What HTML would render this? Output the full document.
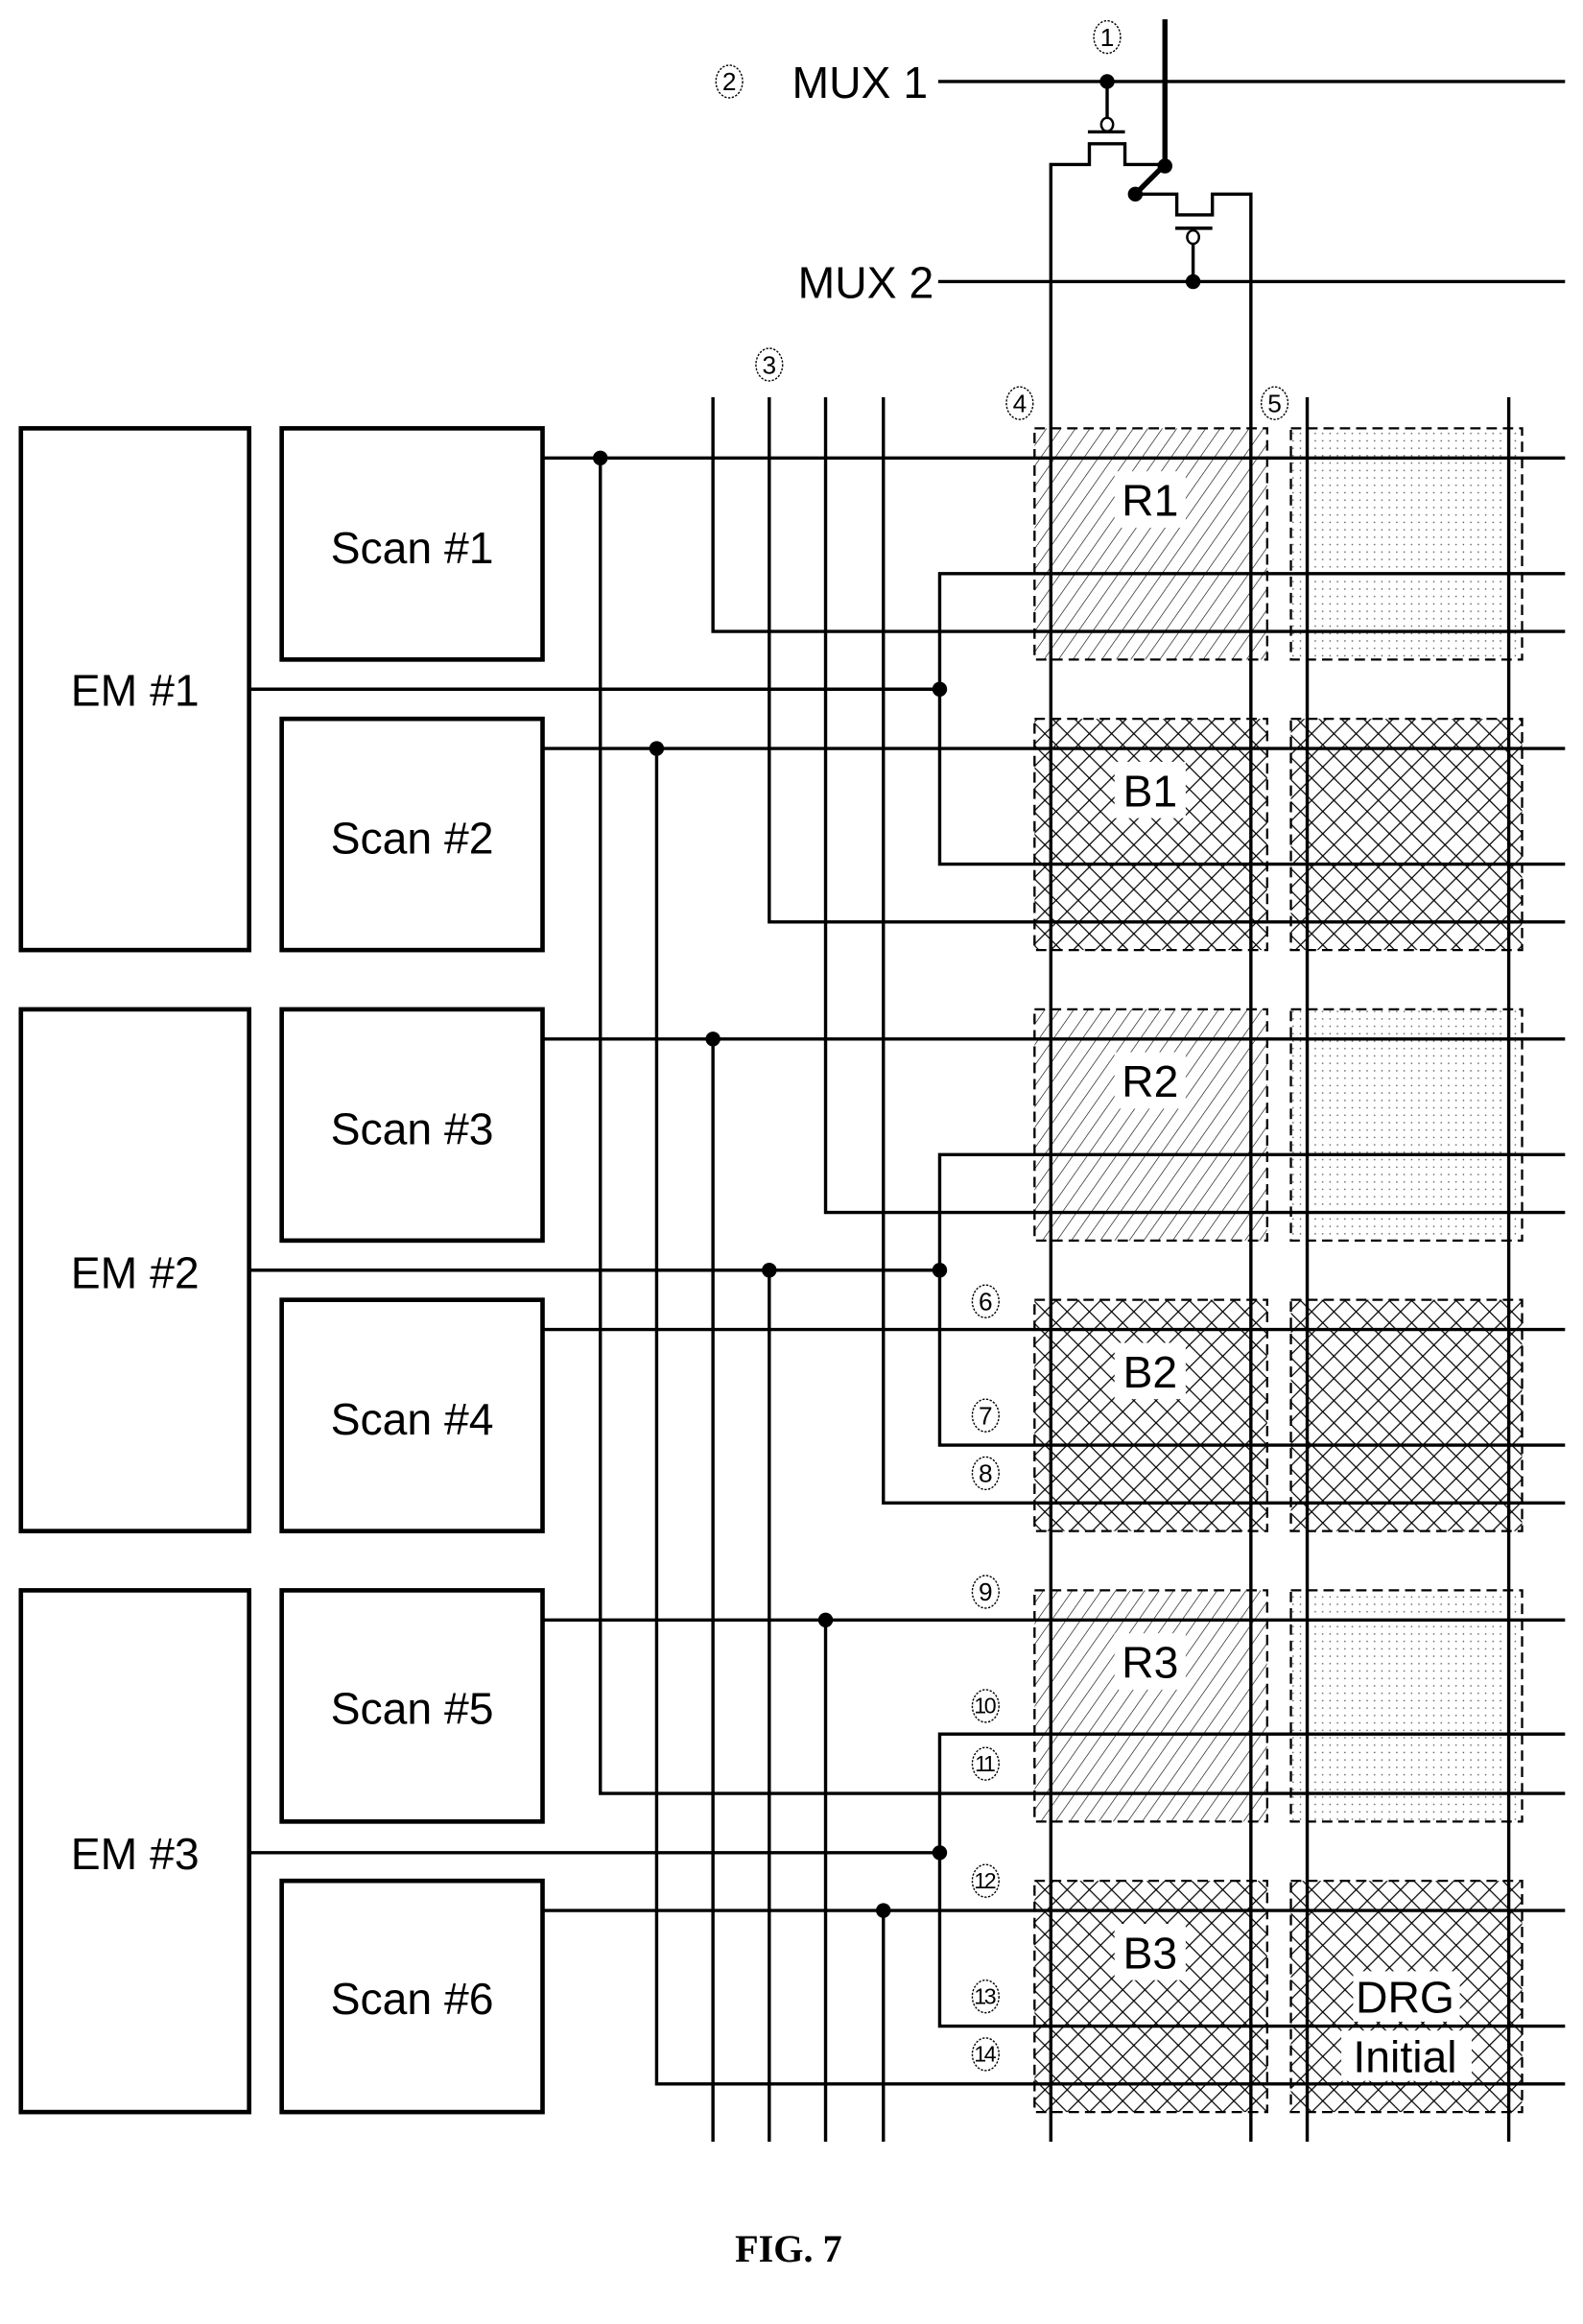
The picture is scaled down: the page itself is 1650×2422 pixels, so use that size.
<!DOCTYPE html>
<html><head><meta charset="utf-8"><style>
html,body{margin:0;padding:0;background:#fff;}
svg{display:block;}
text{font-family:"Liberation Sans","DejaVu Sans",sans-serif;fill:#000;}
</style></head><body>
<svg width="1650" height="2422" viewBox="0 0 1068 1568" xmlns="http://www.w3.org/2000/svg">
<defs>
<pattern id="hatch" width="8" height="8" patternUnits="userSpaceOnUse" patternTransform="rotate(35)">
<line x1="0" y1="0" x2="0" y2="8" stroke="#000" stroke-width="0.8"/>
</pattern>
<pattern id="cross" width="15" height="15" patternUnits="userSpaceOnUse">
<path d="M0 0L15 15M15 0L0 15" stroke="#000" stroke-width="0.8"/>
</pattern>
<pattern id="dots" width="5" height="5" patternUnits="userSpaceOnUse">
<rect x="2" y="2" width="0.9" height="0.9" fill="#555"/>
</pattern>
<g id="circ"><ellipse cx="0" cy="0" rx="9" ry="11" fill="#fff" stroke="#000" stroke-width="0.9" stroke-dasharray="1.5,1"/></g>
</defs>
<rect width="1068" height="1568" fill="#fff"/>

<g stroke="#000" stroke-width="1.5" stroke-dasharray="7,4">
<rect x="698" y="289" width="157" height="156" fill="url(#hatch)"/>
<rect x="871" y="289" width="156" height="156" fill="url(#dots)"/>
<rect x="698" y="485" width="157" height="156" fill="url(#cross)"/>
<rect x="871" y="485" width="156" height="156" fill="url(#cross)"/>
<rect x="698" y="681" width="157" height="156" fill="url(#hatch)"/>
<rect x="871" y="681" width="156" height="156" fill="url(#dots)"/>
<rect x="698" y="877" width="157" height="156" fill="url(#cross)"/>
<rect x="871" y="877" width="156" height="156" fill="url(#cross)"/>
<rect x="698" y="1073" width="157" height="156" fill="url(#hatch)"/>
<rect x="871" y="1073" width="156" height="156" fill="url(#dots)"/>
<rect x="698" y="1269" width="157" height="156" fill="url(#cross)"/>
<rect x="871" y="1269" width="156" height="156" fill="url(#cross)"/>
</g>
<g fill="#fff">
<rect x="752" y="318" width="48" height="38"/>
<rect x="752" y="514" width="48" height="38"/>
<rect x="752" y="710" width="48" height="38"/>
<rect x="752" y="906" width="48" height="38"/>
<rect x="752" y="1102" width="48" height="38"/>
<rect x="752" y="1298" width="48" height="38"/>
<rect x="913" y="1330" width="72" height="34"/>
<rect x="905" y="1370" width="88" height="34"/>
</g>

<g fill="none" stroke="#000" stroke-width="3">
<rect x="14" y="289" width="154" height="352"/>
<rect x="14" y="681" width="154" height="352"/>
<rect x="14" y="1073" width="154" height="352"/>
<rect x="190" y="289" width="176" height="156"/>
<rect x="190" y="485" width="176" height="156"/>
<rect x="190" y="681" width="176" height="156"/>
<rect x="190" y="877" width="176" height="156"/>
<rect x="190" y="1073" width="176" height="156"/>
<rect x="190" y="1269" width="176" height="156"/>
</g>

<g fill="none" stroke="#000" stroke-width="2.2">
<line x1="633" y1="55" x2="1056" y2="55"/>
<line x1="633" y1="190" x2="1056" y2="190"/>
<line x1="366" y1="309" x2="1056" y2="309"/>
<line x1="366" y1="505" x2="1056" y2="505"/>
<line x1="366" y1="701" x2="1056" y2="701"/>
<line x1="366" y1="897" x2="1056" y2="897"/>
<line x1="366" y1="1093" x2="1056" y2="1093"/>
<line x1="366" y1="1289" x2="1056" y2="1289"/>
<line x1="168" y1="465" x2="634" y2="465"/>
<line x1="168" y1="857" x2="634" y2="857"/>
<line x1="168" y1="1250" x2="634" y2="1250"/>
<polyline points="1056,387 634,387 634,583 1056,583"/>
<polyline points="1056,779 634,779 634,975 1056,975"/>
<polyline points="1056,1170 634,1170 634,1367 1056,1367"/>
<polyline points="405,309 405,1210 1056,1210"/>
<polyline points="443,505 443,1406 1056,1406"/>
<line x1="481" y1="701" x2="481" y2="1445"/>
<line x1="519" y1="857" x2="519" y2="1445"/>
<line x1="557" y1="1093" x2="557" y2="1445"/>
<line x1="596" y1="1289" x2="596" y2="1445"/>
<polyline points="481,268 481,426 1056,426"/>
<polyline points="519,268 519,622 1056,622"/>
<polyline points="557,268 557,818 1056,818"/>
<polyline points="596,268 596,1014 1056,1014"/>
<polyline points="709,1445 709,111 735,111 735,97 759,97 759,111 786,111"/>
<polyline points="844,1445 844,131 818,131 818,145 794,145 794,131 766,131"/>
<line x1="882" y1="268" x2="882" y2="1445"/>
<line x1="1018" y1="268" x2="1018" y2="1445"/>
<line x1="747" y1="55" x2="747" y2="80"/>
<line x1="734" y1="89" x2="759" y2="89"/>
<line x1="805" y1="190" x2="805" y2="165"/>
<line x1="793" y1="154" x2="818" y2="154"/>
</g>
<g fill="none" stroke="#000" stroke-width="1.6">
<ellipse cx="747" cy="84" rx="4" ry="4.5"/>
<ellipse cx="805" cy="160" rx="4" ry="4.5"/>
</g>
<line x1="786" y1="13" x2="786" y2="111" stroke="#000" stroke-width="3.5"/>
<line x1="786" y1="111" x2="766" y2="131" stroke="#000" stroke-width="3.5"/>

<g fill="#000">
<circle cx="747" cy="55" r="5"/>
<circle cx="805" cy="190" r="5"/>
<circle cx="786" cy="112" r="5"/>
<circle cx="766" cy="131" r="5"/>
<circle cx="405" cy="309" r="5"/>
<circle cx="443" cy="505" r="5"/>
<circle cx="481" cy="701" r="5"/>
<circle cx="519" cy="857" r="5"/>
<circle cx="557" cy="1093" r="5"/>
<circle cx="596" cy="1289" r="5"/>
<circle cx="634" cy="465" r="5"/>
<circle cx="634" cy="857" r="5"/>
<circle cx="634" cy="1250" r="5"/>
</g>

<g font-size="30" text-anchor="middle">
<text x="91" y="476">EM #1</text>
<text x="91" y="869">EM #2</text>
<text x="91" y="1261">EM #3</text>
<text x="278" y="380">Scan #1</text>
<text x="278" y="576">Scan #2</text>
<text x="278" y="772">Scan #3</text>
<text x="278" y="968">Scan #4</text>
<text x="278" y="1163">Scan #5</text>
<text x="278" y="1359">Scan #6</text>
<text x="776" y="348">R1</text>
<text x="776" y="544">B1</text>
<text x="776" y="740">R2</text>
<text x="776" y="936">B2</text>
<text x="776" y="1132">R3</text>
<text x="776" y="1328">B3</text>
<text x="948" y="1358">DRG</text>
<text x="948" y="1398">Initial</text>
</g>
<g font-size="30" text-anchor="end">
<text x="626" y="66">MUX 1</text>
<text x="630" y="201">MUX 2</text>
</g>
<g>
<use href="#circ" x="747" y="25"/><use href="#circ" x="492" y="55"/><use href="#circ" x="519" y="246"/>
<use href="#circ" x="688" y="272"/><use href="#circ" x="860" y="272"/><use href="#circ" x="665" y="878"/>
<use href="#circ" x="665" y="955"/><use href="#circ" x="665" y="994"/><use href="#circ" x="665" y="1074"/>
<use href="#circ" x="665" y="1151"/><use href="#circ" x="665" y="1190"/><use href="#circ" x="665" y="1269"/>
<use href="#circ" x="665" y="1347"/><use href="#circ" x="665" y="1386"/>
</g>
<g font-size="17" text-anchor="middle">
<text x="747" y="31">1</text>
<text x="492" y="61">2</text>
<text x="519" y="252">3</text>
<text x="688" y="278">4</text>
<text x="860" y="278">5</text>
<text x="665" y="884">6</text>
<text x="665" y="961">7</text>
<text x="665" y="1000">8</text>
<text x="665" y="1080">9</text>
</g>
<g font-size="15" text-anchor="middle" letter-spacing="-1.5">
<text x="664" y="1156">10</text>
<text x="664" y="1195">11</text>
<text x="664" y="1274">12</text>
<text x="664" y="1352">13</text>
<text x="664" y="1391">14</text>
</g>
<text x="532" y="1526" text-anchor="middle" font-size="26" font-weight="bold" style="font-family:'Liberation Serif',serif">FIG. 7</text>
</svg>
</body></html>
